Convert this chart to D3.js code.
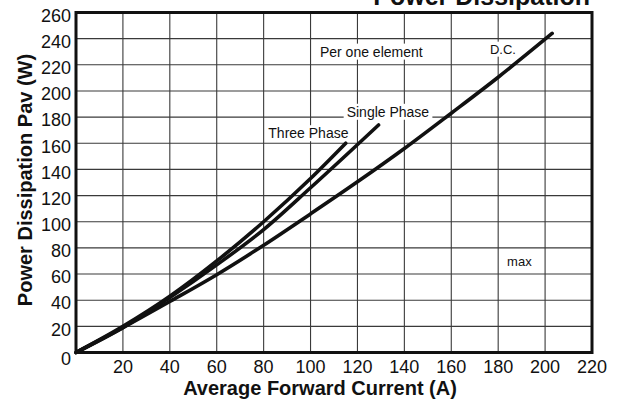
<!DOCTYPE html>
<html>
<head>
<meta charset="utf-8">
<script src="https://cdn.jsdelivr.net/npm/d3@7"></script>
<style>
  body { margin: 0; background: #fff; }
  svg { display: block; font-family: "Liberation Sans", Arial, sans-serif; }
</style>
</head>
<body>
<svg id="chart"></svg>
<script>
// values
const xTicks = [20, 40, 60, 80, 100, 120, 140, 160, 180, 200, 220];
const yTicks = [0, 20, 40, 60, 80, 100, 120, 140, 160, 180, 200, 220, 240, 260];

const threePhase = [[0, 0], [20, 20], [40, 43], [60, 70], [80, 100], [100, 133], [115, 160]];
const singlePhase = [[0, 0], [20, 19], [40, 42], [60, 67], [80, 94], [100, 126], [129, 174]];
const dcCurve = [[0, 0], [20, 19], [40, 39], [60, 59.5], [80, 82], [100, 106], [120, 130.5], [140, 156], [160, 183], [180, 210.5], [203, 244]];

const labels = [
    { text: "Per one element", x: 104, y: 230, size: 14 },
    { text: "Single Phase", x: 115.4, y: 184, size: 14 },
    { text: "Three Phase", x: 82, y: 167.6, size: 14 },
    { text: "D.C.", x: 176.5, y: 232, size: 13 },
    { text: "max", x: 183.8, y: 70, size: 13 }
];

const width = 619;
const height = 408;

const svg = d3.select("#chart")
    .attr("width", width)
    .attr("height", height);

const x = d3.scaleLinear().domain([0, 220]).range([76, 592]);
const y = d3.scaleLinear().domain([0, 260]).range([352.5, 12.5]);

// grid
const grid = svg.append("g");
grid.selectAll("line.v")
    .data(xTicks)
    .enter()
    .append("line")
    .attr("x1", d => x(d)).attr("x2", d => x(d))
    .attr("y1", y(0)).attr("y2", y(260))
    .attr("stroke", "#3a3a3a")
    .attr("stroke-width", 1.1);
grid.selectAll("line.h")
    .data(yTicks)
    .enter()
    .append("line")
    .attr("x1", x(0)).attr("x2", x(220))
    .attr("y1", d => y(d)).attr("y2", d => y(d))
    .attr("stroke", "#3a3a3a")
    .attr("stroke-width", 1.1);

// labels with white background
labels.forEach(l => {
    const g = svg.append("g");
    const t = g.append("text")
        .attr("x", x(l.x))
        .attr("y", y(l.y))
        .attr("dy", "0.35em")
        .attr("font-size", l.size)
        .attr("fill", "#111")
        .text(l.text);
    const b = t.node().getBBox();
    g.insert("rect", "text")
        .attr("x", b.x - 3)
        .attr("y", b.y)
        .attr("width", b.width + 6)
        .attr("height", b.height)
        .attr("fill", "#fff");
});

// curves
const line = d3.line()
    .x(d => x(d[0]))
    .y(d => y(d[1]))
    .curve(d3.curveMonotoneX);

[dcCurve, singlePhase, threePhase].forEach(c => {
    svg.append("path")
        .datum(c)
        .attr("d", line)
        .attr("fill", "none")
        .attr("stroke", "#111")
        .attr("stroke-width", 3.6)
        .attr("stroke-linecap", "round");
});

// frame
svg.append("rect")
    .attr("x", x(0))
    .attr("y", y(260))
    .attr("width", x(220) - x(0))
    .attr("height", y(0) - y(260))
    .attr("fill", "none")
    .attr("stroke", "#111")
    .attr("stroke-width", 3);

// tick labels
svg.selectAll("text.xt")
    .data(xTicks)
    .enter()
    .append("text")
    .attr("x", d => x(d))
    .attr("y", 373)
    .attr("text-anchor", "middle")
    .attr("font-size", 18)
    .attr("fill", "#111")
    .text(d => d);

svg.selectAll("text.yt")
    .data(yTicks)
    .enter()
    .append("text")
    .attr("x", 71)
    .attr("y", d => y(d) + (d === 0 ? 6 : 3))
    .attr("dy", "0.35em")
    .attr("text-anchor", "end")
    .attr("font-size", 18)
    .attr("fill", "#111")
    .text(d => d);

// titles
svg.append("text")
    .attr("x", 320)
    .attr("y", 395)
    .attr("text-anchor", "middle")
    .attr("font-size", 20)
    .attr("font-weight", "bold")
    .attr("fill", "#111")
    .text("Average Forward Current (A)");

svg.append("text")
    .attr("transform", "translate(32,180) rotate(-90)")
    .attr("text-anchor", "middle")
    .attr("font-size", 20)
    .attr("font-weight", "bold")
    .attr("fill", "#111")
    .text("Power Dissipation Pav (W)");

// the reference shows this title clipped by the top edge
svg.append("text")
    .attr("x", 590)
    .attr("y", 5)
    .attr("text-anchor", "end")
    .attr("font-size", 25)
    .attr("font-weight", "bold")
    .attr("fill", "#111")
    .text("Power Dissipation");
</script>
</body>
</html>
